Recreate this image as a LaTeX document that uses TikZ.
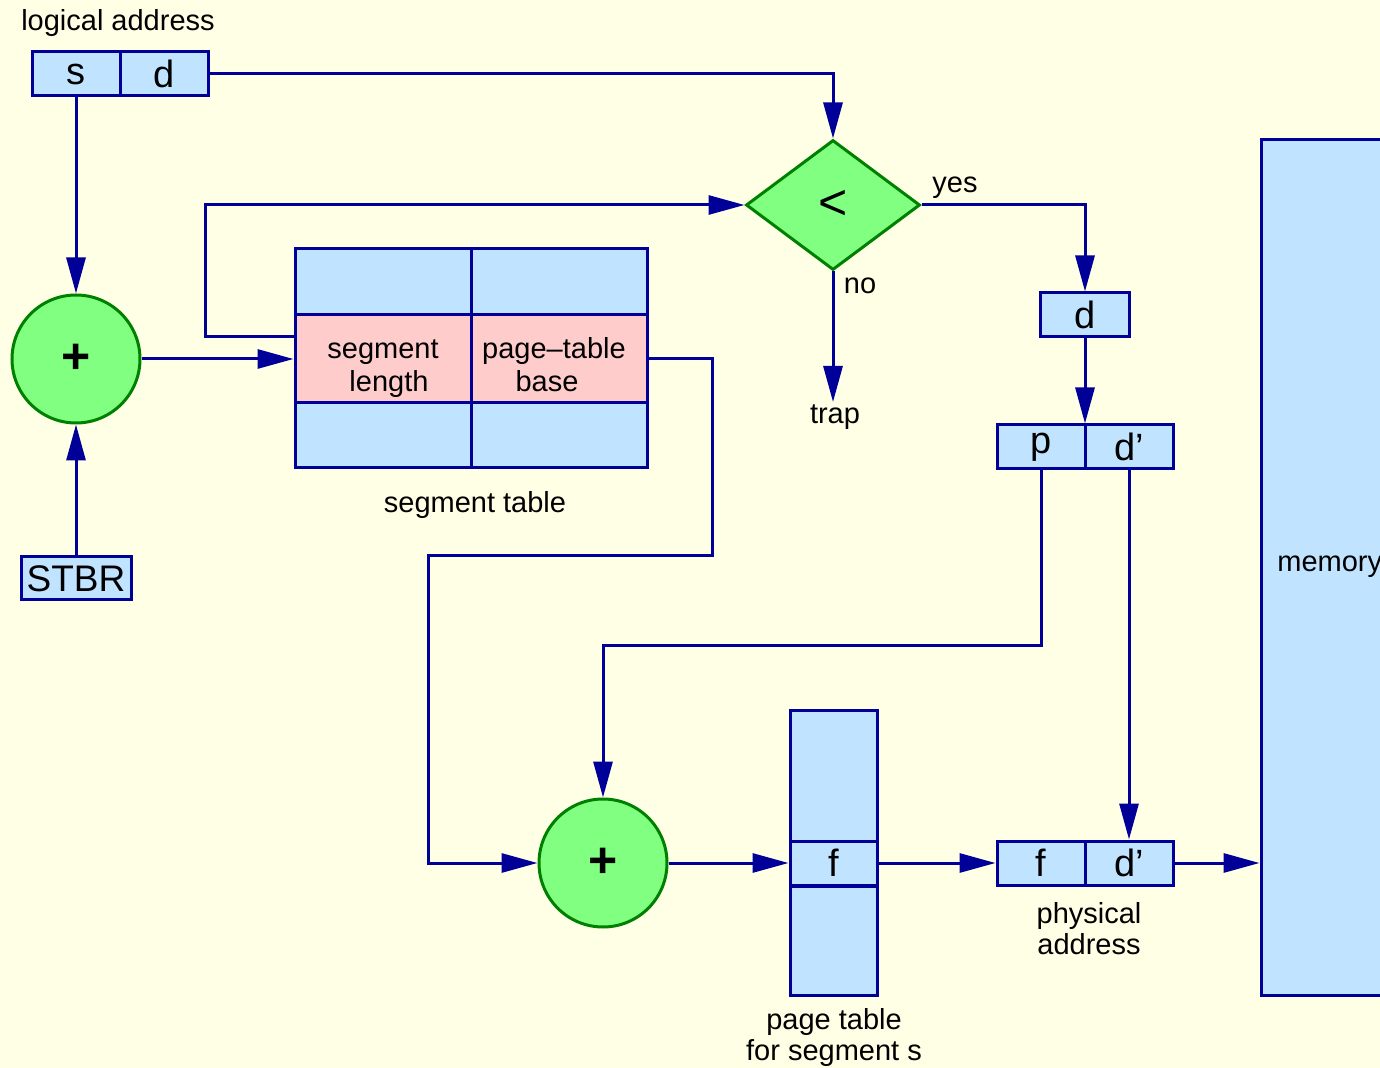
\documentclass[tikz,border=0pt]{standalone}
\usepackage{fontspec}
\setmainfont{Liberation Sans}
\usetikzlibrary{arrows.meta,shapes.geometric}

\definecolor{bg}{HTML}{FFFFE6}
\definecolor{cellblue}{HTML}{C0E4FF}
\definecolor{navy}{HTML}{000099}
\definecolor{pinkcell}{HTML}{FFCCCC}
\definecolor{greenfill}{HTML}{80FF80}
\definecolor{greenline}{HTML}{008000}

\begin{document}
\begin{tikzpicture}[x=0.5pt,y=-0.5pt]
	\tikzstyle{cell}=[draw=navy,fill=cellblue,line width=1.5pt,inner sep=0pt,
		minimum width=44pt,minimum height=22pt,font=\fontsize{19}{22}\selectfont]
	\tikzstyle{pink}=[fill=pinkcell,font=\fontsize{14.5}{16.5}\selectfont,align=center,
		text height=36pt,text depth=3pt]
	\tikzstyle{op}=[circle,draw=greenline,fill=greenfill,line width=1.5pt,
		minimum size=64pt,inner sep=0pt,font=\fontsize{25}{27}\selectfont\bfseries]
	\tikzstyle{test}=[diamond,draw=greenline,fill=greenfill,line width=1.5pt,
		minimum width=87pt,minimum height=65pt,inner sep=0pt,font=\fontsize{25}{27}\selectfont]
	\tikzstyle{lbl}=[inner sep=1pt,align=center,font=\fontsize{14.5}{15.5}\selectfont]
	\tikzstyle{arr}=[draw=navy,line width=1.5pt,-{Triangle[length=18pt,width=9.5pt]}]

	\useasboundingbox (0,0) rectangle (1380,1068);
	\fill[bg] (0,0) rectangle (1380,1068);
	\clip (0,0) rectangle (1380,1068);

	% logical address
	\node[lbl] (logaddr) at (118,23) {logical address};
	\node[cell] (s) at (76,74) {s};
	\node[cell] (d) at (164,74) {d};

	% adders
	\node[op] (plus1) at (76,359) {+};
	\node[op] (plus2) at (603,863) {+};
	\node[cell,minimum width=55pt,minimum height=21.5pt,font=\fontsize{18.5}{20}\selectfont] (stbr) at (76,578.5) {STBR};

	% segment table
	\node[cell,minimum width=88pt,minimum height=33pt] (st11) at (383,282) {};
	\node[cell,minimum width=88pt,minimum height=33pt] (st12) at (559,282) {};
	\node[cell,pink,minimum width=88pt,minimum height=44pt] (seglen) at (383,359) {segment\\ \hspace*{6pt}length};
	\node[cell,pink,minimum width=88pt,minimum height=44pt] (ptbase) at (559,359) {\hspace*{-5pt}page\textendash table\\ \hspace*{-12pt}base};
	\node[cell,minimum width=88pt,minimum height=32.5pt] (st31) at (383,435.5) {};
	\node[cell,minimum width=88pt,minimum height=32.5pt] (st32) at (559,435.5) {};
	\node[lbl] (stlabel) at (475,505) {segment table};

	% comparison
	\node[test] (cmp) at (833,205) {<};
	\node[lbl] (yes) at (955,188) {yes};
	\node[lbl] (no) at (860,286) {no};
	\node[lbl,anchor=north] (trap) at (835,402) {trap};

	% offset split
	\node[cell,minimum width=44.5pt] (dbox) at (1085,315) {d};
	\node[cell] (p) at (1041,447) {p};
	\node[cell] (dp) at (1129,447) {d’};

	% page table
	\node[cell,minimum width=43.5pt,minimum height=66pt] (pt1) at (833.5,776) {};
	\node[cell,minimum width=43.5pt] (ptf) at (833.5,863) {f};
	\node[cell,minimum width=43.5pt,minimum height=54.5pt] (pt3) at (833.5,940.5) {};
	\node[lbl] (ptlabel) at (834,1037) {page table\\ for segment s};

	% physical address
	\node[cell] (pf) at (1041,863) {f};
	\node[cell] (pdp) at (1129,863) {d’};
	\node[lbl] (physlabel) at (1089,929) {physical\\ address};

	% memory
	\node[cell,minimum width=80pt,minimum height=427.5pt] (mem) at (1341,567.5) {};
	\node[lbl,anchor=west] (memlabel) at (1275,567) {memory};

	% connectors
	\foreach \from/\to in {s.south/plus1.north,stbr.north/plus1.south,plus1.east/seglen.west,
		dp.south/pdp.north,plus2.east/ptf.west,ptf.east/pf.west}
	\draw [arr] (\from) -- (\to);

	\draw[arr] (d.east) -| (cmp.north);
	\draw[arr] ([yshift=11pt]seglen.west) -- ++(-88,0) |- (cmp.west);
	\draw[arr] (cmp.east) -| (dbox.north);
	\draw[arr] (cmp.south) -- (cmp.south |- trap.north);
	\draw[arr] (dbox.south) -- (dbox.south |- p.north);
	\draw[arr] (ptbase.east) -| (712,556) -| (428,863) -- (plus2.west);
	\draw[arr] (p.south) -- ++(0,175) -| (plus2.north);
	\draw[arr] (pdp.east) -- (pdp.east -| mem.west);
\end{tikzpicture}
\end{document}
